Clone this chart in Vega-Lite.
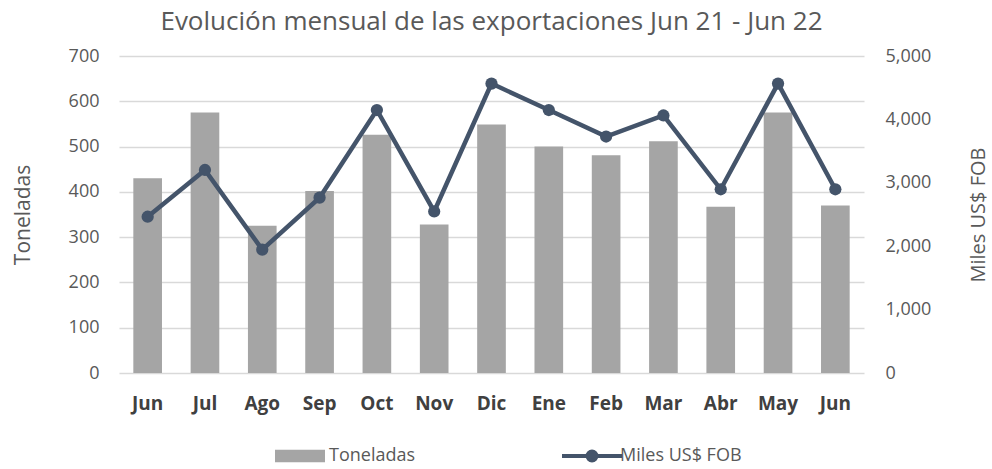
{
  "$schema": "https://vega.github.io/schema/vega-lite/v6.json",
  "width": 745,
  "height": 317,
  "autosize": {"type": "none"},
  "padding": {"left": 119, "top": 56, "right": 128, "bottom": 96},
  "background": "white",
  "config": {
    "view": {"stroke": null},
    "font": "Open Sans"
  },
  "title": {
    "text": "Evolución mensual de las exportaciones Jun 21 - Jun 22",
    "fontSize": 26,
    "fontWeight": "normal",
    "color": "#595959",
    "anchor": "middle",
    "offset": 12
  },
  "data": {
    "values": [
      {"mes": "Jun 21", "ton": 430, "fob": 2465},
      {"mes": "Jul", "ton": 575, "fob": 3202},
      {"mes": "Ago", "ton": 325, "fob": 1945},
      {"mes": "Sep", "ton": 402, "fob": 2765},
      {"mes": "Oct", "ton": 526, "fob": 4148},
      {"mes": "Nov", "ton": 328, "fob": 2548},
      {"mes": "Dic", "ton": 549, "fob": 4565},
      {"mes": "Ene", "ton": 500, "fob": 4148},
      {"mes": "Feb", "ton": 481, "fob": 3730},
      {"mes": "Mar", "ton": 512, "fob": 4062},
      {"mes": "Abr", "ton": 367, "fob": 2898},
      {"mes": "May", "ton": 575, "fob": 4565},
      {"mes": "Jun 22", "ton": 370, "fob": 2898}
    ]
  },
  "encoding": {
    "x": {
      "field": "mes",
      "type": "ordinal",
      "sort": null,
      "scale": {"paddingInner": 0.5, "paddingOuter": 0.25},
      "axis": {
        "title": null,
        "labelAngle": 0,
        "labelExpr": "split(datum.label, ' ')[0]",
        "labelFontSize": 19,
        "labelFontWeight": "bold",
        "labelColor": "#404040",
        "labelPadding": 21,
        "ticks": false,
        "domain": false,
        "grid": false
      }
    }
  },
  "layer": [
    {
      "mark": {"type": "bar"},
      "encoding": {
        "y": {
          "field": "ton",
          "type": "quantitative",
          "scale": {"domain": [0, 700], "nice": false},
          "axis": {
            "orient": "left",
            "values": [0, 100, 200, 300, 400, 500, 600, 700],
            "grid": true,
            "gridColor": "#D9D9D9",
            "gridWidth": 1.3,
            "domain": false,
            "ticks": false,
            "labelPadding": 20,
            "labelFontSize": 18,
            "labelColor": "#595959",
            "title": "Toneladas",
            "titleFontSize": 21,
            "titleFontWeight": "normal",
            "titleColor": "#595959",
            "titlePadding": 35
          }
        },
        "fill": {
          "datum": "Toneladas",
          "scale": {"domain": ["Toneladas"], "range": ["#A5A5A5"]},
          "legend": {
            "orient": "none",
            "legendX": 156,
            "legendY": 375,
            "title": null,
            "direction": "horizontal",
            "symbolType": "M-1,-0.25L1,-0.25L1,0.25L-1,0.25Z",
            "symbolSize": 2500,
            "symbolStrokeWidth": 0,
            "labelFontSize": 18,
            "labelColor": "#595959",
            "labelOffset": 4
          }
        }
      }
    },
    {
      "encoding": {
        "y": {
          "field": "fob",
          "type": "quantitative",
          "scale": {"domain": [0, 5000], "nice": false},
          "axis": {
            "orient": "right",
            "values": [0, 1000, 2000, 3000, 4000, 5000],
            "format": ",.0f",
            "grid": false,
            "domain": false,
            "ticks": false,
            "labelPadding": 21,
            "labelFontSize": 18,
            "labelColor": "#595959",
            "title": "Miles US$ FOB",
            "titleAngle": -90,
            "titleFontSize": 20,
            "titleFontWeight": "normal",
            "titleColor": "#595959",
            "titlePadding": 58
          }
        }
      },
      "layer": [
        {
          "mark": {"type": "line", "strokeWidth": 4.5},
          "encoding": {
            "stroke": {
              "datum": "Miles US$ FOB",
              "scale": {"domain": ["Miles US$ FOB"], "range": ["#44546A"]},
              "legend": {
                "orient": "none",
                "legendX": 441,
                "legendY": 368,
                "title": null,
                "direction": "horizontal",
                "symbolType": "M-1,0L1,0M-0.15,0A0.15,0.15,0,1,0,0.15,0A0.15,0.15,0,1,0,-0.15,0Z",
                "symbolSize": 3600,
                "symbolStrokeWidth": 4,
                "symbolFillColor": "#44546A",
                "labelFontSize": 18,
                "labelColor": "#595959",
                "labelOffset": -4
              }
            }
          }
        },
        {
          "mark": {"type": "point", "filled": true, "size": 150, "opacity": 1, "color": "#44546A"}
        }
      ]
    }
  ],
  "resolve": {"scale": {"y": "independent"}}
}
